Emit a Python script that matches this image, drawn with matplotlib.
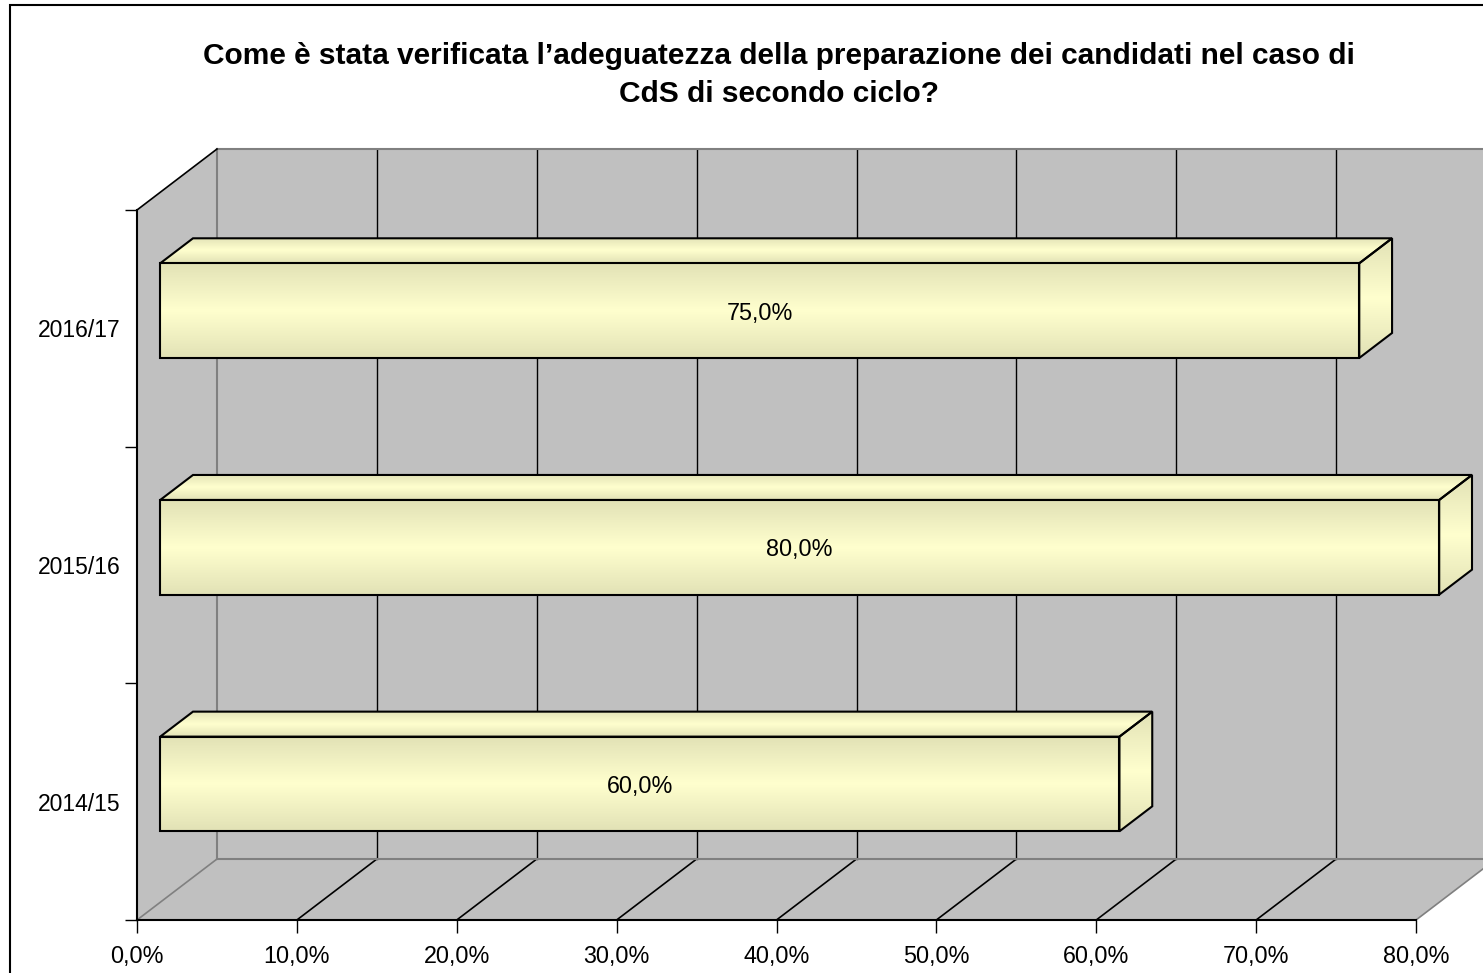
import numpy as np
import matplotlib
matplotlib.use("Agg")
import matplotlib.pyplot as plt
from matplotlib.patches import Polygon, Rectangle

plt.rcParams['font.family'] = ['Liberation Sans', 'DejaVu Sans']

# ---- data ----
categories = ["2014/15", "2015/16", "2016/17"]
values = [0.60, 0.80, 0.75]
xticks = [0.0, 0.1, 0.2, 0.3, 0.4, 0.5, 0.6, 0.7, 0.8]
title = ("Come è stata verificata l\u2019adeguatezza della preparazione dei candidati nel caso di\n"
         "CdS di secondo ciclo?")

W, H = 1483, 973
fig = plt.figure(figsize=(W / 100, H / 100), dpi=100)

# chart border
fig.patches.append(Rectangle((10 / W, -0.05), 1.1, (H - 5) / H + 0.05, transform=fig.transFigure,
                             fill=False, edgecolor='black', lw=1.5))

# axes = front plane
L, R, T, B = 137, 1416, 210, 920
ax = fig.add_axes([L / W, (H - B) / H, (R - L) / W, (B - T) / H])
ax.set_xlim(0, 0.8)
ax.set_ylim(0, 3)
ax.patch.set_visible(False)

xpx = (R - L) / 0.8
ypx = (B - T) / 3.0
DX = 80 / xpx   # depth offset in x data units
DY = 61 / ypx   # depth offset in y data units
d1, d2 = 0.29, 0.70
bh = 0.40

wall = '#c0c0c0'
edge_gray = '#808080'
xmax = xticks[-1]

# back wall
ax.add_patch(Polygon([(DX, DY), (xmax + DX, DY), (xmax + DX, 3 + DY), (DX, 3 + DY)],
                     closed=True, facecolor=wall, edgecolor='none', clip_on=False, zorder=0))
# left wall
ax.add_patch(Polygon([(0, 0), (0, 3), (DX, 3 + DY), (DX, DY)],
                     closed=True, facecolor=wall, edgecolor='none', clip_on=False, zorder=0))
# floor
ax.add_patch(Polygon([(0, 0), (xmax, 0), (xmax + DX, DY), (DX, DY)],
                     closed=True, facecolor=wall, edgecolor='none', clip_on=False, zorder=0))

# gridlines on back wall and floor
for v in xticks:
    col = edge_gray if v in (0.0, xmax) else 'black'
    if 0 < v < xmax:
        ax.plot([v + DX, v + DX], [DY, 3 + DY], color='black', lw=1, clip_on=False, zorder=1)
    ax.plot([v, v + DX], [0, DY], color=col, lw=1.2, clip_on=False, zorder=1)

# wall edges
ax.plot([DX, xmax + DX], [DY, DY], color=edge_gray, lw=1.5, clip_on=False, zorder=1)
ax.plot([DX, xmax + DX], [3 + DY, 3 + DY], color=edge_gray, lw=1.5, clip_on=False, zorder=1)
ax.plot([DX, DX], [DY, 3 + DY], color=edge_gray, lw=1.5, clip_on=False, zorder=1)
ax.plot([0, DX], [3, 3 + DY], color='black', lw=1.2, clip_on=False, zorder=1)

# gradient helper
edge_c = np.array([226, 226, 182]) / 255
mid_c = np.array([255, 255, 206]) / 255
t = np.linspace(-1, 1, 64)
w = (1 - np.abs(t))[:, None]
grad = (edge_c[None, :] * (1 - w) + mid_c[None, :] * w)[:, None, :]


def face(poly, z):
    xs = [p[0] for p in poly]
    ys = [p[1] for p in poly]
    patch = Polygon(poly, closed=True, facecolor='none', edgecolor='none',
                    transform=ax.transData)
    im = ax.imshow(grad, extent=[min(xs), max(xs), min(ys), max(ys)], aspect='auto',
                   origin='lower', interpolation='bilinear', zorder=z)
    im.set_clip_path(patch)
    im.set_clip_box(fig.bbox)
    ax.add_patch(Polygon(poly, closed=True, facecolor='none', edgecolor='black',
                         lw=1.5, joinstyle='miter', clip_on=False, zorder=z + 0.1))


for i, (cat, v) in enumerate(zip(categories, values)):
    y0 = i + 0.5 - bh / 2
    y1 = i + 0.5 + bh / 2
    fx0, fy0 = d1 * DX, d1 * DY
    bx0, by0 = d2 * DX, d2 * DY
    front = [(fx0, y0 + fy0), (v + fx0, y0 + fy0), (v + fx0, y1 + fy0), (fx0, y1 + fy0)]
    top = [(fx0, y1 + fy0), (v + fx0, y1 + fy0), (v + bx0, y1 + by0), (bx0, y1 + by0)]
    side = [(v + fx0, y0 + fy0), (v + bx0, y0 + by0), (v + bx0, y1 + by0), (v + fx0, y1 + fy0)]
    face(top, 3)
    face(side, 3)
    face(front, 4)
    ax.text(v / 2 + fx0, i + 0.5 + fy0, f"{v * 100:.1f}%".replace('.', ','),
            ha='center', va='center_baseline', fontsize=16.8, color='black', zorder=6)

ax.set_xlim(0, 0.8)
ax.set_ylim(0, 3)

# spines
for s in ('top', 'right'):
    ax.spines[s].set_visible(False)
ax.spines['left'].set_color('black')
ax.spines['bottom'].set_color('black')
ax.spines['left'].set_linewidth(1.5)
ax.spines['bottom'].set_linewidth(1.5)
ax.spines['left'].set_zorder(2)
ax.spines['bottom'].set_zorder(2)

# ticks
ax.set_xticks(xticks)
ax.set_xticklabels([f"{v * 100:.1f}%".replace('.', ',') for v in xticks], fontsize=16.8)
ax.tick_params(axis='x', direction='out', length=9, width=1, pad=9, colors='black')
ax.set_yticks([0, 1, 2, 3])
ax.set_yticklabels([])
ax.set_yticks([0.5, 1.5, 2.5], minor=True)
ax.set_yticklabels(categories, minor=True, fontsize=16.5)
ax.tick_params(axis='y', which='major', direction='out', length=9, width=1)
ax.tick_params(axis='y', which='minor', length=0, pad=12)

fig.text(779 / W, 1 - 75 / H, title, ha='center', va='center', fontsize=21.5,
         fontweight='bold', linespacing=1.42)

fig.savefig("out.png", dpi=100)
